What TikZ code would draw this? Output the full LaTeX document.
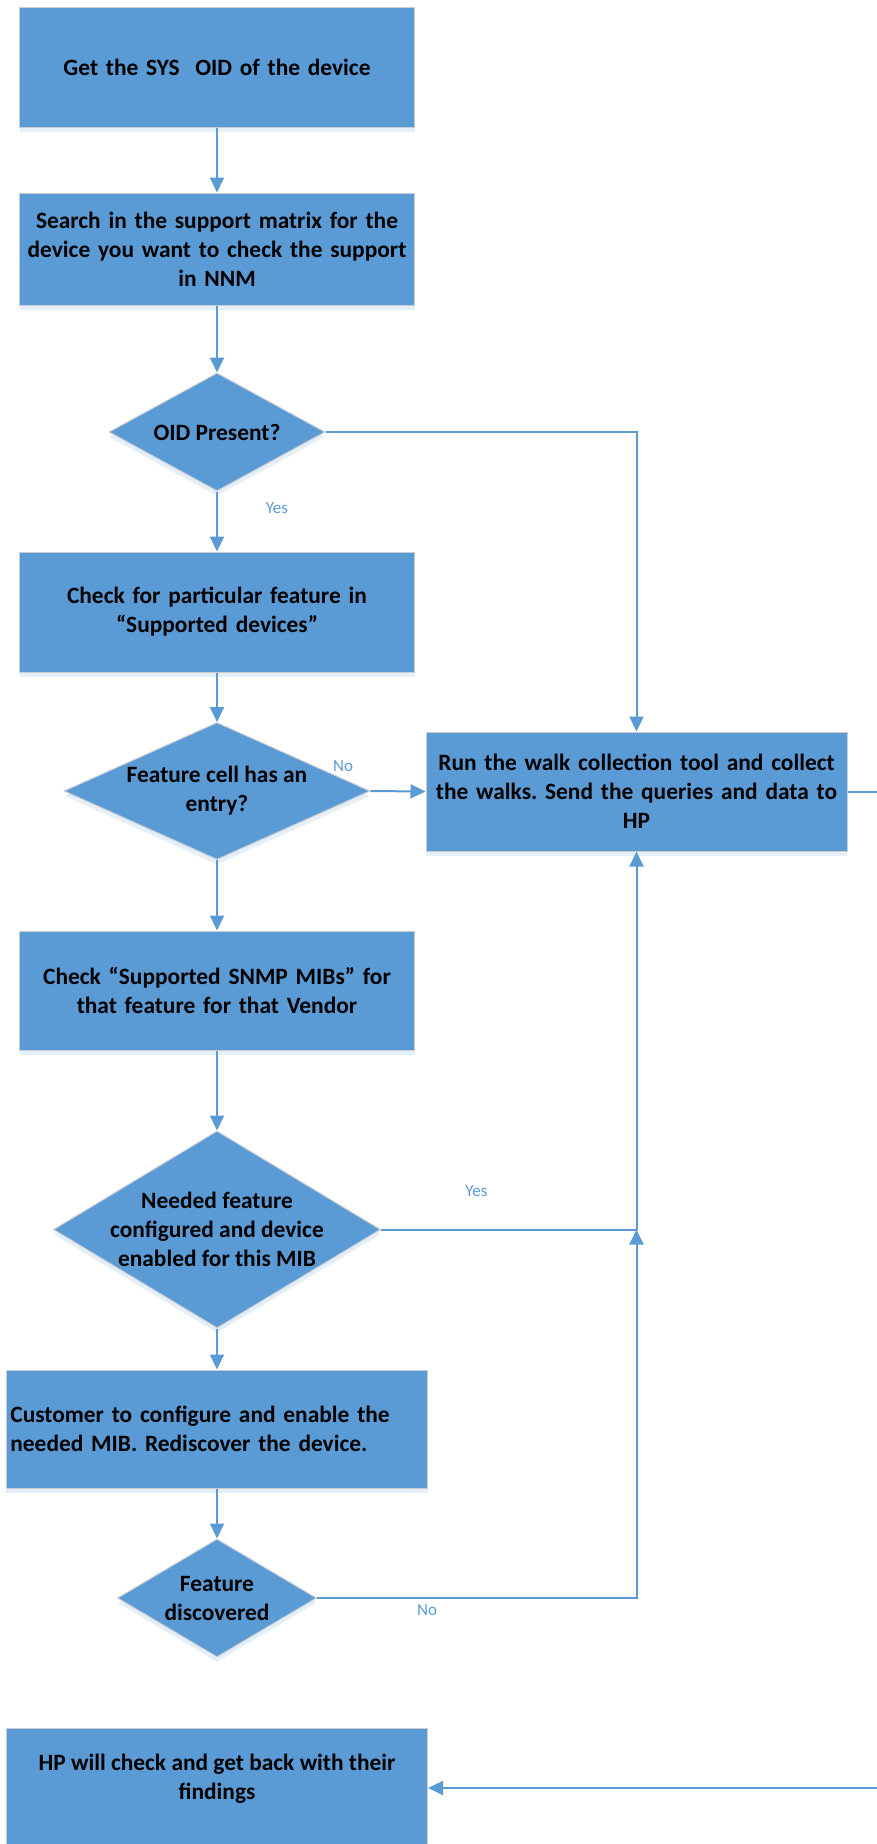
\documentclass[tikz,border=0pt]{standalone}
\usepackage{fontspec}
\setmainfont{Carlito}
\frenchspacing
\usetikzlibrary{shapes.geometric,arrows.meta,shadows}
\definecolor{nodeblue}{HTML}{5B9BD5}
\definecolor{lineblue}{HTML}{5B9BD5}
\definecolor{boxedge}{HTML}{C9CDD3}
\newcommand\boxfont{\bfseries\fontsize{11.7}{14.5}\selectfont}
\newcommand\lblfont{\fontsize{8.5}{10}\selectfont}
\tikzset{
  shad/.style={drop shadow={shadow xshift=0pt, shadow yshift=-2.5pt, opacity=0.16, fill=lineblue}},
  box/.style={rectangle, fill=nodeblue, draw=boxedge, line width=0.5pt, inner sep=1.25pt,
    align=center, font=\boxfont, text=black, text width=195pt, shad},
  leftbox/.style={box, align=left, inner sep=2pt, text width=206.6pt},
  dia/.style={diamond, fill=nodeblue, draw=boxedge, line width=0.5pt, inner sep=0pt, shad},
  txt/.style={font=\boxfont, align=center, text=black, inner sep=0pt},
  conn/.style={draw=lineblue, line width=1pt, -{Triangle[width=7pt,length=7.5pt]}},
  plainline/.style={draw=lineblue, line width=1pt},
  lbl/.style={font=\lblfont, text=lineblue, inner sep=0pt},
}
\begin{document}
\begin{tikzpicture}[x=0.5pt, y=-0.5pt]
\useasboundingbox (0,0) rectangle (877,1844);

% boxes
\node[box, minimum width=197.5pt, minimum height=60pt] (b1) at (217,67) {Get the SYS\ \ OID of the device};
\node[box, minimum width=197.5pt, minimum height=56pt] (b2) at (217,249) {Search in the support matrix for the\\device you want to check the support\\in NNM};
\node[dia, minimum width=108pt, minimum height=59pt, label={[txt]center:{OID Present?}}] (d1) at (217,432) {};
\node[box, minimum width=197.5pt, minimum height=60pt] (b3) at (217,612) {Check for particular feature in\\“Supported devices”};
\node[dia, minimum width=153pt, minimum height=68.5pt, label={[txt]center:{Feature cell has an\\entry?}}] (d2) at (217,791) {};
\node[box, minimum width=210.5pt, minimum height=59.5pt, text width=208pt] (run) at (636.5,791.5) {Run the walk collection tool and collect\\the walks. Send the queries and data to\\HP};
\node[box, minimum width=197.5pt, minimum height=59.5pt] (b4) at (217,990.5) {Check “Supported SNMP MIBs” for\\that feature for that Vendor};
\node[dia, minimum width=163.5pt, minimum height=98.5pt, label={[txt]center:{Needed feature\\configured and device\\enabled for this MIB}}] (d3) at (217,1229.5) {};
\node[leftbox, minimum width=210.6pt, minimum height=59pt] (b5) at (217,1429) {Customer to configure and enable the\\needed MIB. Rediscover the device.};
\node[dia, minimum width=99.5pt, minimum height=59pt, label={[txt]center:{Feature\\discovered}}] (d4) at (217,1598) {};
\node[box, minimum width=210.6pt, minimum height=60pt, label={[txt, yshift=4.75pt]center:{HP will check and get back with their\\findings}}] (b6) at (217,1788) {};

% connectors
\draw[conn] (b1.south) -- (b2.north);
\draw[conn] (b2.south) -- (d1.north);
\draw[conn] (d1.south) -- (b3.north);
\draw[conn] (b3.south) -- (d2.north);
\draw[conn] (d2.south) -- (b4.north);
\draw[conn] (b4.south) -- (d3.north);
\draw[conn] (d3.south) -- (b5.north);
\draw[conn] (b5.south) -- (d4.north);

\draw[conn] (d1.east) -| (run.north);
\draw[conn] (d2.east) -- (run.west);
\coordinate (jn) at (d3.east -| run.south);
\draw[plainline] (d3.east) -- (jn);
\draw[conn] (d4.east) -| (jn);
\draw[conn] (jn) -- (run.south);
\draw[conn] (run.east) -- ++(40,0) |- (b6.east);

% labels
\node[lbl] (l1) at (277,508) {Yes};
\node[lbl] (l2) at (343,766) {No};
\node[lbl] (l3) at (476.5,1191) {Yes};
\node[lbl] (l4) at (427,1610) {No};
\end{tikzpicture}
\end{document}
